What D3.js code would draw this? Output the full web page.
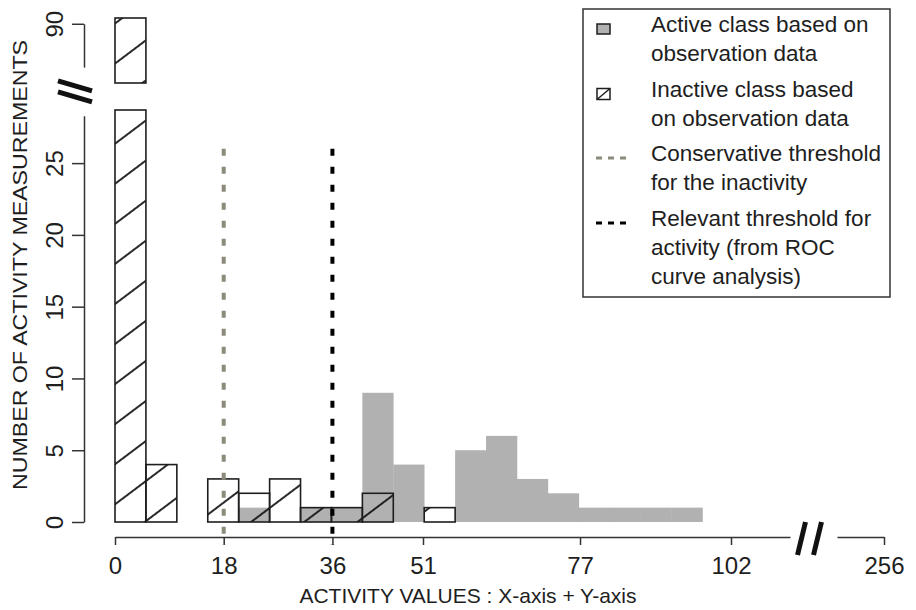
<!DOCTYPE html>
<html>
<head>
<meta charset="utf-8">
<script src="https://cdn.jsdelivr.net/npm/d3@7/dist/d3.min.js"></script>
<style>
  html, body { margin: 0; padding: 0; background: #fff; }
  svg { display: block; font-family: "Liberation Sans", Arial, sans-serif; }
</style>
</head>
<body>
<svg id="chart" width="916" height="610"></svg>
<script>
// ---------------- data ----------------
const binWidth = 5.12;                       // 256 / 50 bins
const activeCounts   = [0, 0, 0, 0, 1, 0, 1, 1, 9, 4, 0, 5, 6, 3, 2, 1, 1, 1, 1];
const inactiveCounts = [90.4, 4, 0, 3, 2, 3, 1, 1, 2, 0, 1];
const xTickValues = [0, 18, 36, 51, 77, 102];
const xBreakTickValues = [256];
const yTickValuesLower = [0, 5, 10, 15, 20, 25];
const yTickValuesUpper = [90];
const thresholdValues = [18, 36];
const thresholdTop = 26;
const legendLabels = [
  ["Active class based on", "observation data"],
  ["Inactive class based", "on observation data"],
  ["Conservative threshold", "for the inactivity"],
  ["Relevant threshold for", "activity (from ROC", "curve analysis)"]
];
const xTitle = "ACTIVITY VALUES : X-axis + Y-axis";
const yTitle = "NUMBER OF ACTIVITY MEASUREMENTS";

// ---------------- layout ----------------
const svg = d3.select("#chart");
const ink = "#1e1e1e";
const grayFill = "#b1b1b1";
const thrColors = ["#8c8a7a", "#000000"];
const axisX = 84;        // y-axis line position
const xAxisY = 537;      // x-axis line position

const x = d3.scaleLinear().domain([0, 102]).range([115, 731]);
const yLow = d3.scaleLinear().domain([0, 28.7]).range([522, 110]);
const yUp  = d3.scaleLinear().domain([85.9, 90.4]).range([83, 18]);

// hatch pattern
const defs = svg.append("defs");
const pat = defs.append("pattern")
  .attr("id", "hatch").attr("patternUnits", "userSpaceOnUse")
  .attr("width", 10).attr("height", 32)
  .attr("patternTransform", "translate(0,10) rotate(-37)");
pat.append("line").attr("x1", -1).attr("x2", 11).attr("y1", 16).attr("y2", 16)
  .attr("stroke", "#111").attr("stroke-width", 1.8);

// ---------------- bars ----------------
const bw = x(binWidth) - x(0);
svg.append("g").selectAll("rect")
  .data(activeCounts.map((v, i) => ({v, i})).filter(d => d.v > 0))
  .join("rect")
  .attr("x", d => x(d.i * binWidth))
  .attr("width", bw + 0.3)
  .attr("y", d => yLow(d.v))
  .attr("height", d => yLow(0) - yLow(d.v))
  .attr("fill", grayFill);

const inact = inactiveCounts.map((v, i) => ({v, i})).filter(d => d.v > 0);
const gI = svg.append("g");
gI.selectAll("rect.low").data(inact).join("rect").attr("class", "low")
  .attr("x", d => x(d.i * binWidth))
  .attr("width", bw)
  .attr("y", d => yLow(Math.min(d.v, yLow.domain()[1])))
  .attr("height", d => yLow(0) - yLow(Math.min(d.v, yLow.domain()[1])))
  .attr("fill", "url(#hatch)").attr("stroke", ink).attr("stroke-width", 1.6);
gI.selectAll("rect.up").data(inact.filter(d => d.v > yUp.domain()[0])).join("rect").attr("class", "up")
  .attr("x", d => x(d.i * binWidth))
  .attr("width", bw)
  .attr("y", d => yUp(d.v))
  .attr("height", d => yUp(yUp.domain()[0]) - yUp(d.v))
  .attr("fill", "url(#hatch)").attr("stroke", ink).attr("stroke-width", 1.6);

// ---------------- axes ----------------
function styleAxis(g) {
  g.selectAll("path, line").attr("stroke", "#333").attr("stroke-width", 1.5);
  g.selectAll("text").attr("fill", ink).attr("font-size", 24)
    .attr("font-family", "'Liberation Sans', Arial, sans-serif");
}

// x axis main segment
const pxPerUnit = x(1) - x(0);
const xMainScale = d3.scaleLinear().domain([0, (790 - 115) / pxPerUnit]).range([115, 790]);
const gx = svg.append("g").attr("transform", `translate(0,${xAxisY})`)
  .call(d3.axisBottom(xMainScale).tickValues(xTickValues).tickFormat(d3.format("d"))
    .tickSize(8).tickSizeOuter(0).tickPadding(12));
styleAxis(gx);
// x axis segment after the break
const xRightScale = d3.scaleLinear().domain([256 - (884 - 837) / pxPerUnit, 256]).range([837, 884]);
const gx2 = svg.append("g").attr("transform", `translate(0,${xAxisY})`)
  .call(d3.axisBottom(xRightScale).tickValues(xBreakTickValues).tickFormat(d3.format("d"))
    .tickSize(8).tickSizeOuter(0).tickPadding(12));
styleAxis(gx2);
gx.selectAll(".domain").attr("fill", "none");
gx2.selectAll(".domain").attr("fill", "none");

// x break marks
const xbc = (790 + 837) / 2 - 4;
[-8, 8].forEach(o => {
  svg.append("line")
    .attr("x1", xbc + o + 4).attr("y1", xAxisY - 15)
    .attr("x2", xbc + o - 4).attr("y2", xAxisY + 18)
    .attr("stroke", "#111").attr("stroke-width", 5);
});

// y axis lower
const yLowAxisScale = d3.scaleLinear().domain([0, 28.3]).range([yLow(0), yLow(28.3)]);
const gyL = svg.append("g").attr("transform", `translate(${axisX},0)`)
  .call(d3.axisLeft(yLowAxisScale).tickValues(yTickValuesLower).tickFormat(d3.format("d"))
    .tickSize(12).tickSizeOuter(0));
// y axis upper
const yUpAxisScale = d3.scaleLinear().domain([87.0, 90]).range([yUp(87.0), yUp(90)]);
const gyU = svg.append("g").attr("transform", `translate(${axisX},0)`)
  .call(d3.axisLeft(yUpAxisScale).tickValues(yTickValuesUpper).tickFormat(d3.format("d"))
    .tickSize(12).tickSizeOuter(0));
[gyL, gyU].forEach(g => {
  styleAxis(g);
  g.selectAll(".domain").attr("fill", "none");
  g.selectAll(".tick text")
    .attr("x", null).attr("dy", null)
    .attr("text-anchor", "middle")
    .attr("transform", "translate(-21,0) rotate(-90)");
});

// y break marks
const ybc = (yUp(87.0) + yLow(28.3)) / 2;
[-5.5, 5.5].forEach(o => {
  svg.append("line")
    .attr("x1", axisX - 26).attr("y1", ybc + o - 5)
    .attr("x2", axisX + 8).attr("y2", ybc + o + 5)
    .attr("stroke", "#111").attr("stroke-width", 5);
});

// titles
svg.append("text").attr("x", 468).attr("y", 603).attr("text-anchor", "middle")
  .attr("font-size", 21).attr("fill", ink).text(xTitle);
svg.append("text").attr("transform", "translate(27,265) rotate(-90)").attr("text-anchor", "middle")
  .attr("font-size", 20).attr("fill", ink)
  .attr("textLength", 450).attr("lengthAdjust", "spacingAndGlyphs").text(yTitle);

// ---------------- thresholds ----------------
thresholdValues.forEach((t, k) => {
  svg.append("line")
    .attr("x1", x(t)).attr("x2", x(t))
    .attr("y1", yLow(thresholdTop)).attr("y2", xAxisY + 8)
    .attr("stroke", thrColors[k]).attr("stroke-width", 4)
    .attr("stroke-dasharray", "7,11");
});

// ---------------- legend ----------------
const lg = svg.append("g");
lg.append("rect").attr("x", 583).attr("y", 9).attr("width", 307).attr("height", 288)
  .attr("fill", "#fff").attr("stroke", "#333").attr("stroke-width", 1.5);
const firstBaselines = [32, 97, 161, 226];
legendLabels.forEach((lines, k) => {
  const b = firstBaselines[k];
  lines.forEach((s, j) => {
    lg.append("text").attr("x", 651).attr("y", b + j * 29)
      .attr("font-size", 22.5).attr("fill", ink).text(s);
  });
  const cy = b - 3;
  if (k === 0) {
    lg.append("rect").attr("x", 597).attr("y", cy - 5).attr("width", 13).attr("height", 10)
      .attr("fill", grayFill).attr("stroke", ink).attr("stroke-width", 1.5);
  } else if (k === 1) {
    lg.append("rect").attr("x", 597).attr("y", cy - 5.5).attr("width", 13).attr("height", 11)
      .attr("fill", "#fff").attr("stroke", ink).attr("stroke-width", 1.5);
    lg.append("line").attr("x1", 597).attr("y1", cy + 5.5).attr("x2", 610).attr("y2", cy - 5.5)
      .attr("stroke", ink).attr("stroke-width", 1.5);
  } else {
    lg.append("line").attr("x1", 596).attr("x2", 627).attr("y1", cy).attr("y2", cy)
      .attr("stroke", thrColors[k - 2]).attr("stroke-width", 3)
      .attr("stroke-dasharray", "6,6");
  }
});
</script>
</body>
</html>
